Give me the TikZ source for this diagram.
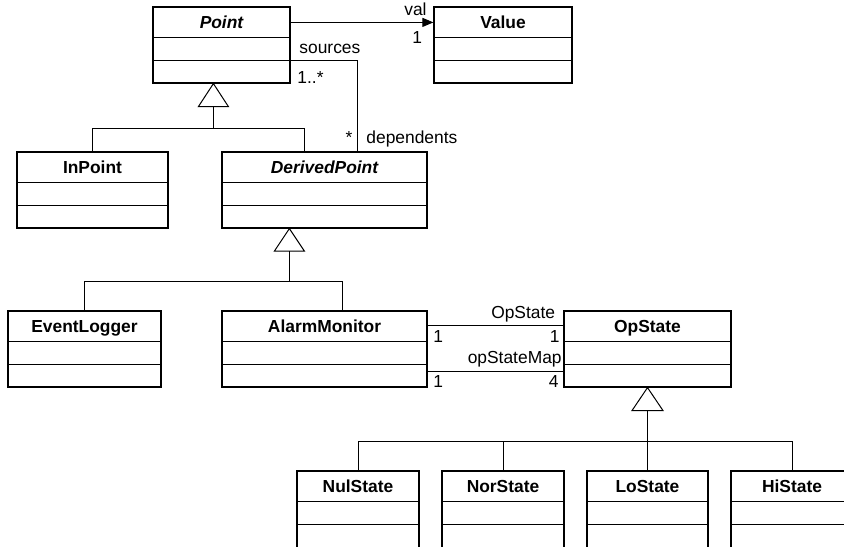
\documentclass[tikz,border=0pt]{standalone}
\usepackage{fontspec}
\setmainfont{Liberation Sans}
\usetikzlibrary{arrows.meta,calc,fit}
\tikzset{
  clsbox/.style={draw, line width=0.6pt, inner sep=0pt, fill=white},
  cline/.style={line width=0.6pt},
  clstitle/.style={anchor=base, inner sep=0pt, font=\fontsize{8.7}{10}\selectfont\bfseries},
  abstitle/.style={anchor=base, inner sep=0pt, font=\fontsize{8.7}{10}\selectfont\bfseries\itshape},
  conn/.style={line width=0.5pt},
  lbl/.style={inner sep=0pt, font=\fontsize{8.7}{10}\selectfont},
  gentri/.style={draw, line width=0.5pt, fill=white},
  navarrow/.style={-{Triangle[length=5.5pt,width=4.5pt]}},
}
\newcommand\umlcls[7]{% name, left, top, right, bottom, title style, title
  \node[clsbox, fit={(#2,#3) (#4,#5)}] (#1) {};
  \draw[cline] (#2,#3+30.5) -- (#4,#3+30.5);
  \draw[cline] (#2,#3+53.5) -- (#4,#3+53.5);
  \node[#6] (#1-title) at ($(#1.north)+(0,22)$) {#7};
}
\begin{document}
\begin{tikzpicture}[x=0.5pt,y=-0.5pt]
\useasboundingbox (0,0) rectangle (844,546);
\clip (0,0) rectangle (844,546);

% classes
\umlcls{point}{153}{7}{290}{83}{abstitle}{Point}
\umlcls{value}{434}{7}{572}{83}{clstitle}{Value}
\umlcls{inpoint}{17}{152}{168}{228}{clstitle}{InPoint}
\umlcls{derived}{222}{152}{427}{228}{abstitle}{DerivedPoint}
\umlcls{eventlogger}{8}{311}{161}{387}{clstitle}{EventLogger}
\umlcls{alarm}{222}{311}{427}{387}{clstitle}{AlarmMonitor}
\umlcls{opstate}{564}{311}{731}{387}{clstitle}{OpState}
\umlcls{nul}{297}{471}{419}{550}{clstitle}{NulState}
\umlcls{nor}{442}{471}{564}{550}{clstitle}{NorState}
\umlcls{lo}{587}{471}{708}{550}{clstitle}{LoState}
\umlcls{hi}{731}{471}{853}{550}{clstitle}{HiState}

% Point -> Value
\draw[conn,navarrow] ($(point.north east)+(0,16)$) -- ($(value.north west)+(0,16)$);
\node[lbl, anchor=base east] (lval) at (427,15) {val};
\node[lbl, anchor=base west] (lval1) at (412,43) {1};

% sources / dependents
\draw[conn] ($(point.north east)+(0,54)$) -| ($(derived.north west)+(136,0)$);
\node[lbl, anchor=base west] (lsrc) at (299,53) {sources};
\node[lbl, anchor=base west] (lsrcm) at (297,83) {1..*};
\node[lbl, anchor=base] (ldepm) at (349,143) {*};
\node[lbl, anchor=base west] (ldep) at (366,143) {dependents};

% generalization Point
\coordinate (g1) at ($(point.south west)+(61,0)$);
\draw[gentri] (g1) -- ++(-15,23) -- ++(30,0) -- cycle;
\draw[conn] ($(g1)+(0,23)$) -- ++(0,22) -| (inpoint.north);
\draw[conn] ($(g1)+(0,45)$) -| ($(derived.north west)+(83,0)$);

% generalization DerivedPoint
\coordinate (g2) at ($(derived.south west)+(68,0)$);
\draw[gentri] (g2) -- ++(-15,22.5) -- ++(30,0) -- cycle;
\draw[conn] ($(g2)+(0,22.5)$) -- ++(0,30.5) -| (eventlogger.north);
\draw[conn] ($(g2)+(0,53)$) -| ($(alarm.north west)+(121,0)$);

% generalization OpState
\coordinate (g3) at (opstate.south);
\draw[gentri] (g3) -- ++(-15.5,23) -- ++(31,0) -- cycle;
\draw[conn] ($(g3)+(0,23)$) -- (lo.north);
\draw[conn] ($(g3)+(0,54)$) -| (nul.north);
\draw[conn] ($(g3)+(0,54)$) -| (nor.north);
\draw[conn] ($(g3)+(0,54)$) -| (hi.north);

% associations AlarmMonitor - OpState
\draw[conn] ($(alarm.north east)+(0,15.5)$) -- ($(opstate.north west)+(0,15.5)$);
\draw[conn] ($(alarm.north east)+(0,61)$) -- ($(opstate.north west)+(0,61)$);
\node[lbl, anchor=base east] (lop) at (555.5,318) {OpState};
\node[lbl, anchor=base west] (lop1) at (433,342) {1};
\node[lbl, anchor=base east] (lop2) at (560,342) {1};
\node[lbl, anchor=base east] (lmap) at (562,363) {opStateMap};
\node[lbl, anchor=base west] (lmap1) at (433,387) {1};
\node[lbl, anchor=base east] (lmap4) at (559,387) {4};
\end{tikzpicture}
\end{document}
